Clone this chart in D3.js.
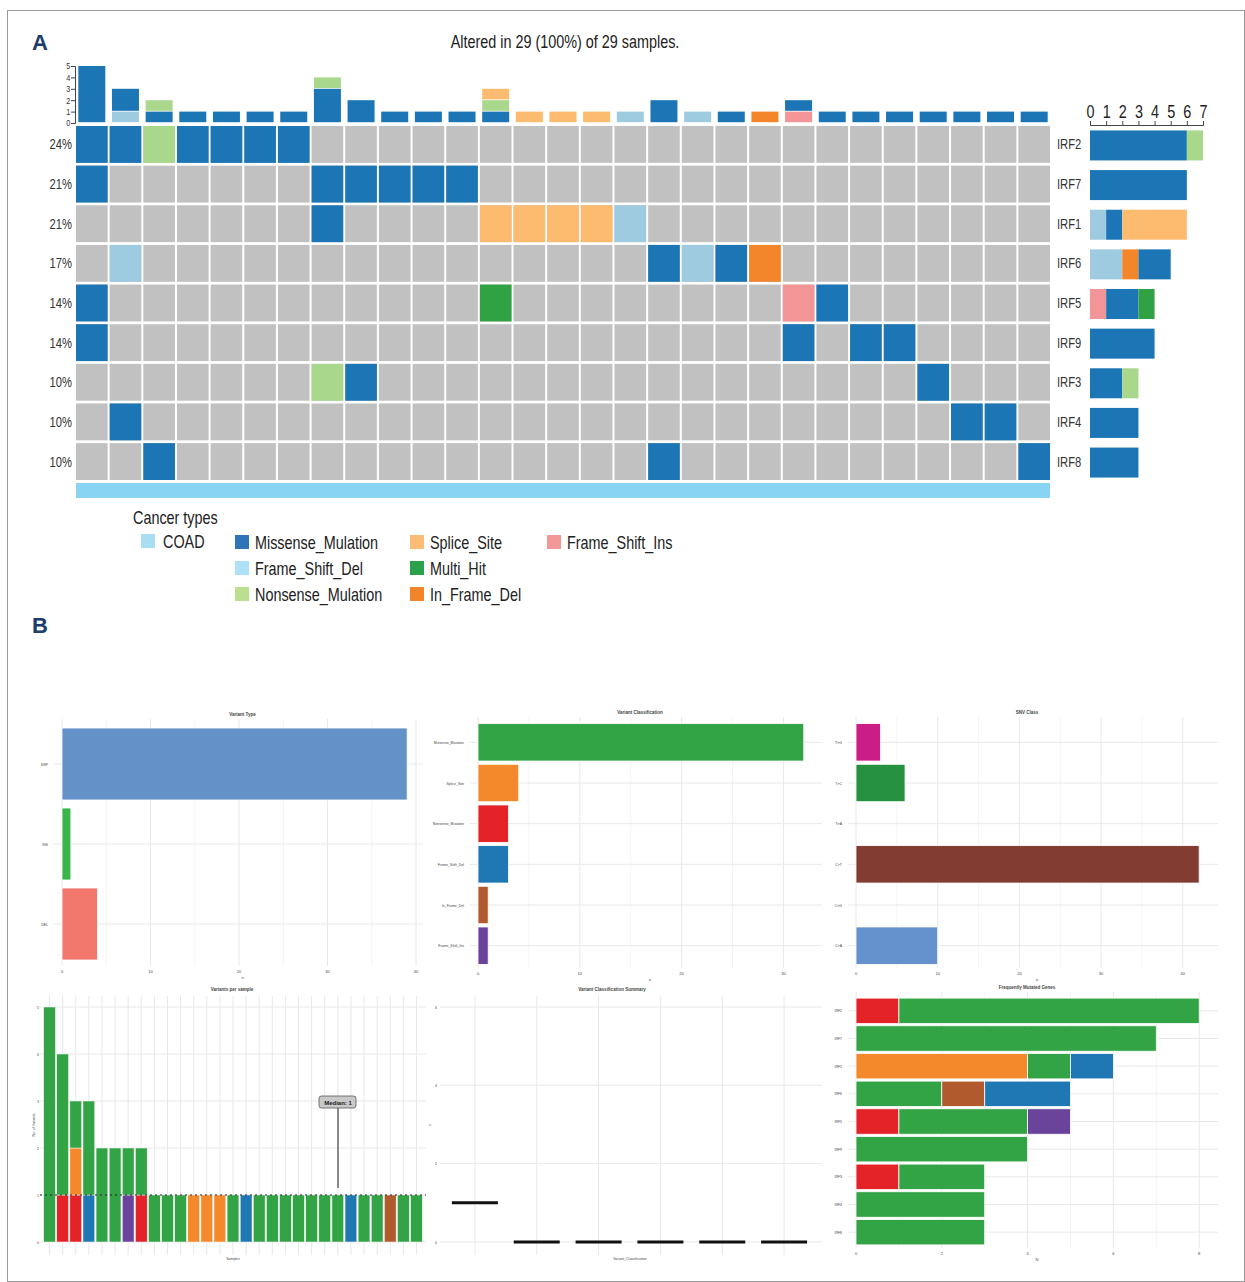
<!DOCTYPE html>
<html>
<head>
<meta charset="utf-8">
<script src="https://cdn.jsdelivr.net/npm/d3@7"></script>
<style>
  body { margin: 0; background: #fff; }
  svg { display: block; }
  .cond { font-family: "Liberation Sans", Arial, sans-serif; }
  .tiny { font-family: "Liberation Sans", Arial, sans-serif; fill: #444; }
</style>
</head>
<body>
<div id="chart"></div>
<script>
// ---------- panel A data ----------
var genes = ["IRF2", "IRF7", "IRF1", "IRF6", "IRF5", "IRF9", "IRF3", "IRF4", "IRF8"];
var genePct = ["24%", "21%", "21%", "17%", "14%", "14%", "10%", "10%", "10%"];
var nSamples = 29;

// [sample index, class] per gene row
var oncoHits = [
  [[0,"MS"],[1,"MS"],[2,"NS"],[3,"MS"],[4,"MS"],[5,"MS"],[6,"MS"]],
  [[0,"MS"],[7,"MS"],[8,"MS"],[9,"MS"],[10,"MS"],[11,"MS"]],
  [[7,"MS"],[12,"SS"],[13,"SS"],[14,"SS"],[15,"SS"],[16,"FSD"]],
  [[1,"FSD"],[17,"MS"],[18,"FSD"],[19,"MS"],[20,"IFD"]],
  [[0,"MS"],[12,"MH"],[21,"FSI"],[22,"MS"]],
  [[0,"MS"],[21,"MS"],[23,"MS"],[24,"MS"]],
  [[7,"NS"],[8,"MS"],[25,"MS"]],
  [[1,"MS"],[26,"MS"],[27,"MS"]],
  [[2,"MS"],[17,"MS"],[28,"MS"]]
];

// stacked counts per sample (top bar), bottom first
var sampleStacks = [
  [["MS",5]], [["FSD",1],["MS",2]], [["MS",1],["NS",1]],
  [["MS",1]], [["MS",1]], [["MS",1]], [["MS",1]],
  [["MS",3],["NS",1]], [["MS",2]], [["MS",1]], [["MS",1]], [["MS",1]],
  [["MS",1],["NS",1],["SS",1]], [["SS",1]], [["SS",1]], [["SS",1]],
  [["FSD",1]], [["MS",2]], [["FSD",1]], [["MS",1]], [["IFD",1]],
  [["FSI",1],["MS",1]],
  [["MS",1]], [["MS",1]], [["MS",1]], [["MS",1]], [["MS",1]], [["MS",1]], [["MS",1]]
];

// stacked counts per gene (side bar), left first
var geneStacks = [
  [["MS",6],["NS",1]], [["MS",6]], [["FSD",1],["MS",1],["SS",4]],
  [["FSD",2],["IFD",1],["MS",2]], [["FSI",1],["MS",2],["MH",1]],
  [["MS",4]], [["MS",2],["NS",1]], [["MS",3]], [["MS",3]]
];

var legendItems = [
  ["MS","Missense_Mulation"], ["FSD","Frame_Shift_Del"], ["NS","Nonsense_Mulation"],
  ["SS","Splice_Site"], ["MH","Multi_Hit"], ["IFD","In_Frame_Del"],
  ["FSI","Frame_Shift_Ins"]
];

// ---------- panel B data ----------
var variantTypes = ["SNP", "INS", "DEL"];
var variantTypeCounts = [39, 1, 4];

var vcNames = ["Missense_Mutation", "Splice_Site", "Nonsense_Mutation", "Frame_Shift_Del", "In_Frame_Del", "Frame_Shift_Ins"];
var vcCodes = ["M", "S", "N", "D", "I", "F"];
var vcCounts = [32, 4, 3, 3, 1, 1];

var snvClasses = ["T>G", "T>C", "T>A", "C>T", "C>G", "C>A"];
var snvCounts = [3, 6, 0, 42, 0, 10];

var varsPerSample = [
  [["M",5]], [["N",1],["M",3]], [["N",1],["S",1],["M",1]], [["D",1],["M",2]],
  [["M",2]], [["M",2]], [["F",1],["M",1]], [["N",1],["M",1]],
  [["M",1]], [["M",1]], [["M",1]], [["S",1]], [["S",1]], [["S",1]],
  [["M",1]], [["D",1]],
  [["M",1]], [["M",1]], [["M",1]], [["M",1]], [["M",1]], [["M",1]], [["M",1]],
  [["D",1]], [["M",1]], [["M",1]], [["I",1]], [["M",1]], [["M",1]]
];
var medianVariants = 1;

var vcSummaryMedian = [1, 0, 0, 0, 0, 0];

var topGeneStacks = [
  [["N",1],["M",7]], [["M",7]], [["S",4],["M",1],["D",1]],
  [["M",2],["I",1],["D",2]], [["N",1],["M",3],["F",1]],
  [["M",4]], [["N",1],["M",2]], [["M",3]], [["M",3]]
];

// ---------- colours ----------
var colA = { MS: "#1c76b5", FSD: "#9ecbe0", NS: "#a9d88c", SS: "#fcbb6e", MH: "#31a244", IFD: "#f3852b", FSI: "#f39596" };
var colLegend = { MS: "#2f74b9", FSD: "#aee0f8", NS: "#bbdf8e", SS: "#fbbd76", MH: "#2aa24b", IFD: "#f2852a", FSI: "#f39899" };
var colB = { M: "#33a446", S: "#f3892b", N: "#e42328", D: "#1f78b4", I: "#b05a2e", F: "#6a449a" };
var vtColors = ["#6591c9", "#3bb44a", "#f2786e"];
var snvColors = ["#cb1d86", "#26913f", "#7d3b33", "#833c32", "#6a8fc4", "#6591cc"];

var W = 1245, H = 1282;
var NARROW = 0.8; // squeeze to mimic the condensed face of the figure
var svg = d3.select("#chart").append("svg").attr("width", W).attr("height", H);

// condensed text helper
function ctext(sel, x, y, s, size, anchor) {
  return sel.append("text")
    .attr("transform", "translate(" + x + "," + y + ") scale(" + NARROW + ",1)")
    .attr("text-anchor", anchor || "start")
    .style("font-size", size + "px").attr("fill", "#222").text(s);
}

// frame
svg.append("rect").attr("x", 7.5).attr("y", 10.5).attr("width", W - 8).attr("height", H - 11)
  .attr("fill", "none").attr("stroke", "#9a9a9a").attr("stroke-width", 1);

svg.append("text").attr("x", 32).attr("y", 50).text("A")
  .style("font-family", "Liberation Sans, Arial, sans-serif").style("font-weight", "bold")
  .style("font-size", "22px").attr("fill", "#1d3c6c");
svg.append("text").attr("x", 32).attr("y", 633).text("B")
  .style("font-family", "Liberation Sans, Arial, sans-serif").style("font-weight", "bold")
  .style("font-size", "22px").attr("fill", "#1d3c6c");

// ================= PANEL A =================
var A = svg.append("g").attr("class", "cond");

ctext(A, 565, 48, "Altered in 29 (100%) of 29 samples.", 18, "middle");

var xCol = d3.scaleBand().domain(d3.range(nSamples)).range([76, 1050]).paddingInner(0.06);
var yRow = d3.scaleBand().domain(genes).range([126, 480]).paddingInner(0.07);

// grey background cells
var cells = [];
genes.forEach(function(g, gi) {
  d3.range(nSamples).forEach(function(s) { cells.push({ g: g, s: s }); });
});
A.selectAll(".bg").data(cells).enter().append("rect")
  .attr("x", d => xCol(d.s)).attr("y", d => yRow(d.g))
  .attr("width", xCol.bandwidth()).attr("height", yRow.bandwidth())
  .attr("fill", "#c1c1c1");

var hitList = [];
oncoHits.forEach(function(row, gi) {
  row.forEach(function(h) { hitList.push({ g: genes[gi], s: h[0], c: h[1] }); });
});
A.selectAll(".hit").data(hitList).enter().append("rect")
  .attr("x", d => xCol(d.s)).attr("y", d => yRow(d.g))
  .attr("width", xCol.bandwidth()).attr("height", yRow.bandwidth())
  .attr("fill", d => colA[d.c]);

// percent labels and gene labels
genes.forEach(function(g, i) {
  var yc = yRow(g) + yRow.bandwidth() / 2 + 5;
  ctext(A, 72, yc, genePct[i], 14, "end").attr("fill", "#333");
  ctext(A, 1057, yc, g, 14, "start").attr("fill", "#333");
});

// cancer type bar
A.append("rect").attr("x", 76).attr("y", 483).attr("width", 974).attr("height", 15).attr("fill", "#8ad4f3");

// top stacked bars
var yTop = d3.scaleLinear().domain([0, 5]).range([123, 66]);
var topSegs = [];
sampleStacks.forEach(function(st, s) {
  var acc = 0;
  st.forEach(function(p) { topSegs.push({ s: s, c: p[0], y0: acc, y1: acc + p[1] }); acc += p[1]; });
});
var topW = 27;
A.selectAll(".top").data(topSegs).enter().append("rect")
  .attr("x", d => xCol(d.s) + xCol.bandwidth() / 2 - topW / 2)
  .attr("y", d => yTop(d.y1)).attr("width", topW)
  .attr("height", d => yTop(d.y0) - yTop(d.y1) - 0.8)
  .attr("fill", d => colA[d.c]);
var topAxis = A.append("g").attr("transform", "translate(75,0)")
  .call(d3.axisLeft(yTop).ticks(5).tickSize(4).tickPadding(2));
topAxis.selectAll("text").style("font-size", "9px").attr("fill", "#333").attr("transform", "scale(" + NARROW + ",1)");
topAxis.selectAll("line,path").attr("stroke", "#444");

// side stacked bars
var xSide = d3.scaleLinear().domain([0, 7]).range([1090, 1203]);
var sideSegs = [];
geneStacks.forEach(function(st, gi) {
  var acc = 0;
  st.forEach(function(p) { sideSegs.push({ g: genes[gi], c: p[0], x0: acc, x1: acc + p[1] }); acc += p[1]; });
});
var sideH = 30;
A.selectAll(".side").data(sideSegs).enter().append("rect")
  .attr("x", d => xSide(d.x0)).attr("width", d => xSide(d.x1) - xSide(d.x0))
  .attr("y", d => yRow(d.g) + yRow.bandwidth() / 2 - sideH / 2 + 1).attr("height", sideH)
  .attr("fill", d => colA[d.c]);
var sideAxis = A.append("g").attr("transform", "translate(0,125)")
  .call(d3.axisTop(xSide).ticks(7).tickSize(4).tickPadding(3));
sideAxis.selectAll("text").style("font-size", "18px").attr("fill", "#222").attr("transform", "scale(" + NARROW + ",1)");
sideAxis.selectAll("line,path").attr("stroke", "#444");

// legend
ctext(A, 133, 524, "Cancer types", 18);
A.append("rect").attr("x", 141).attr("y", 534).attr("width", 14).attr("height", 14).attr("fill", "#a9def2");
ctext(A, 163, 548, "COAD", 18);
var legCols = [235, 410, 547];
legendItems.forEach(function(d, i) {
  var c = i < 3 ? 0 : (i < 6 ? 1 : 2);
  var r = i < 3 ? i : (i < 6 ? i - 3 : i - 6);
  var lx = legCols[c], ly = 535 + r * 26;
  A.append("rect").attr("x", lx).attr("y", ly).attr("width", 14).attr("height", 14).attr("fill", colLegend[d[0]]);
  ctext(A, lx + 20, ly + 14, d[1], 18);
});

// ================= PANEL B =================
var gridCol = "#e8e8e8";

function panelTitle(x, y, t) {
  svg.append("text").attr("class", "tiny").attr("x", x).attr("y", y).attr("text-anchor", "middle")
    .style("font-size", "4.5px").style("font-weight", "bold").attr("fill", "#222").text(t);
}

// generic horizontal bar panel
function hbarPanel(opt) {
  var g = svg.append("g");
  var x = d3.scaleLinear().domain(opt.domain).range([opt.x0, opt.x0 + (opt.domain[1] - opt.domain[0]) * opt.pxPerUnit]);
  var y = d3.scaleBand().domain(opt.cats).range([opt.yTop, opt.yBot]).paddingInner(opt.pad).paddingOuter(opt.pad / 2);
  // minor and major vertical grid
  var majors = d3.range(opt.domain[0], opt.domain[1] + 0.001, opt.tickStep);
  var minors = majors.map(v => v + opt.tickStep / 2).filter(v => x(v) < opt.xRight);
  g.selectAll(".vmin").data(minors).enter().append("line")
    .attr("x1", d => x(d)).attr("x2", d => x(d)).attr("y1", opt.yTop - 5).attr("y2", opt.yBot + 2)
    .attr("stroke", "#f1f1f1").attr("stroke-width", 0.8);
  g.selectAll(".vmaj").data(majors).enter().append("line")
    .attr("x1", d => x(d)).attr("x2", d => x(d)).attr("y1", opt.yTop - 5).attr("y2", opt.yBot + 2)
    .attr("stroke", gridCol).attr("stroke-width", 1);
  g.selectAll(".hgrid").data(opt.cats).enter().append("line")
    .attr("x1", opt.x0 - 8).attr("x2", opt.xRight).attr("y1", d => y(d) + y.bandwidth() / 2).attr("y2", d => y(d) + y.bandwidth() / 2)
    .attr("stroke", gridCol).attr("stroke-width", 1);
  // bars (stacked)
  var segs = [];
  opt.stacks.forEach(function(st, i) {
    var acc = 0;
    st.forEach(function(p) { segs.push({ cat: opt.cats[i], col: p[0], a: acc, b: acc + p[1] }); acc += p[1]; });
  });
  g.selectAll(".bar").data(segs.filter(d => d.b > d.a)).enter().append("rect")
    .attr("x", d => x(d.a)).attr("width", d => x(d.b) - x(d.a))
    .attr("y", d => y(d.cat)).attr("height", y.bandwidth())
    .attr("fill", d => d.col).attr("stroke", "#fff").attr("stroke-width", 0.8);
  // labels
  g.selectAll(".ylab").data(opt.cats).enter().append("text").attr("class", "tiny")
    .attr("x", opt.x0 - 14).attr("y", d => y(d) + y.bandwidth() / 2 + 1.5).attr("text-anchor", "end")
    .style("font-size", "3.5px").text(d => d);
  g.selectAll(".xlab").data(majors).enter().append("text").attr("class", "tiny")
    .attr("x", d => x(d)).attr("y", opt.yBot + 9).attr("text-anchor", "middle")
    .style("font-size", "4px").text(d => d);
  g.append("text").attr("class", "tiny").attr("x", (opt.x0 + opt.xRight) / 2).attr("y", opt.yBot + 15)
    .attr("text-anchor", "middle").style("font-size", "4px").text(opt.xTitle);
  panelTitle((opt.x0 + opt.xRight) / 2 + opt.titleShift, opt.yTop - 8, opt.title);
}

// Variant Type
hbarPanel({
  cats: variantTypes, stacks: variantTypeCounts.map((v, i) => [[vtColors[i], v]]),
  domain: [0, 40], tickStep: 10, x0: 62, pxPerUnit: 8.85, xRight: 423,
  yTop: 724, yBot: 964, pad: 0.1, title: "Variant Type", xTitle: "n", titleShift: 0
});

// Variant Classification
hbarPanel({
  cats: vcNames, stacks: vcCounts.map((v, i) => [[colB[vcCodes[i]], v]]),
  domain: [0, 30], tickStep: 10, x0: 478, pxPerUnit: 10.18, xRight: 822,
  yTop: 722, yBot: 966, pad: 0.08, title: "Variant Classification", xTitle: "n", titleShift: -10
});

// SNV Class
hbarPanel({
  cats: snvClasses, stacks: snvCounts.map((v, i) => [[snvColors[i], v]]),
  domain: [0, 40], tickStep: 10, x0: 856, pxPerUnit: 8.17, xRight: 1218,
  yTop: 722, yBot: 966, pad: 0.08, title: "SNV Class", xTitle: "n", titleShift: -10
});

// Frequently mutated genes
hbarPanel({
  cats: genes, stacks: topGeneStacks.map(st => st.map(p => [colB[p[0]], p[1]])),
  domain: [0, 8], tickStep: 2, x0: 856, pxPerUnit: 42.9, xRight: 1218,
  yTop: 997, yBot: 1246, pad: 0.08, title: "Frequently Mutated Genes", xTitle: "N", titleShift: -10
});

// Variants per sample
(function() {
  var g = svg.append("g");
  var x = d3.scaleBand().domain(d3.range(varsPerSample.length)).range([43, 423]).paddingInner(0.1).paddingOuter(0.05);
  var y = d3.scaleLinear().domain([0, 5]).range([1242, 1007]);
  g.selectAll(".hg").data(d3.range(0, 6)).enter().append("line")
    .attr("x1", 40).attr("x2", 426).attr("y1", d => y(d)).attr("y2", d => y(d))
    .attr("stroke", gridCol);
  g.selectAll(".vg").data(d3.range(varsPerSample.length)).enter().append("line")
    .attr("x1", d => x(d) + x.bandwidth() / 2).attr("x2", d => x(d) + x.bandwidth() / 2)
    .attr("y1", 996).attr("y2", 1255).attr("stroke", gridCol);
  var segs = [];
  varsPerSample.forEach(function(st, i) {
    var acc = 0;
    st.forEach(function(p) { segs.push({ i: i, c: p[0], a: acc, b: acc + p[1] }); acc += p[1]; });
  });
  g.selectAll(".bar").data(segs).enter().append("rect")
    .attr("x", d => x(d.i)).attr("width", x.bandwidth())
    .attr("y", d => y(d.b)).attr("height", d => y(d.a) - y(d.b))
    .attr("fill", d => colB[d.c]).attr("stroke", "#fff").attr("stroke-width", 0.5);
  g.append("line").attr("x1", 40).attr("x2", 426).attr("y1", y(medianVariants)).attr("y2", y(medianVariants))
    .attr("stroke", "#222").attr("stroke-width", 1.2).attr("stroke-dasharray", "2,3");
  // median label
  var mx = 338;
  g.append("line").attr("x1", mx).attr("x2", mx).attr("y1", 1108).attr("y2", 1188)
    .attr("stroke", "#666").attr("stroke-width", 1.5);
  g.append("rect").attr("x", 319).attr("y", 1096).attr("width", 37).attr("height", 12).attr("rx", 2.5)
    .attr("fill", "#c9c9c9").attr("stroke", "#555").attr("stroke-width", 0.8);
  g.append("text").attr("x", mx).attr("y", 1104.5).attr("text-anchor", "middle")
    .style("font-family", "Liberation Sans, Arial, sans-serif").style("font-size", "6px").style("font-weight", "bold")
    .attr("fill", "#222").text("Median: " + medianVariants);
  g.selectAll(".yl").data(d3.range(0, 6)).enter().append("text").attr("class", "tiny")
    .attr("x", 39).attr("y", d => y(d) + 1.5).attr("text-anchor", "end").style("font-size", "3.5px").text(d => d);
  g.append("text").attr("class", "tiny").attr("transform", "translate(35,1125) rotate(-90)")
    .attr("text-anchor", "middle").style("font-size", "3.5px").text("No. of Variants");
  g.append("text").attr("class", "tiny").attr("x", 233).attr("y", 1260).attr("text-anchor", "middle")
    .style("font-size", "3.5px").text("Samples");
  panelTitle(232, 991, "Variants per sample");
})();

// Variant Classification Summary (boxplot)
(function() {
  var g = svg.append("g");
  var x = d3.scaleBand().domain(vcNames).range([444, 815]);
  var y = d3.scaleLinear().domain([0, 6]).range([1242, 1007]);
  g.selectAll(".hg").data([0, 2, 4, 6]).enter().append("line")
    .attr("x1", 440).attr("x2", 822).attr("y1", d => y(d)).attr("y2", d => y(d)).attr("stroke", gridCol);
  g.selectAll(".vg").data(vcNames).enter().append("line")
    .attr("x1", d => x(d) + x.bandwidth() / 2).attr("x2", d => x(d) + x.bandwidth() / 2)
    .attr("y1", 996).attr("y2", 1255).attr("stroke", gridCol);
  g.selectAll(".box").data(vcNames).enter().append("line")
    .attr("x1", d => x(d) + x.bandwidth() / 2 - 23).attr("x2", d => x(d) + x.bandwidth() / 2 + 23)
    .attr("y1", (d, i) => y(vcSummaryMedian[i])).attr("y2", (d, i) => y(vcSummaryMedian[i]))
    .attr("stroke", "#111").attr("stroke-width", 3);
  g.selectAll(".yl").data([0, 2, 4, 6]).enter().append("text").attr("class", "tiny")
    .attr("x", 437).attr("y", d => y(d) + 1.5).attr("text-anchor", "end").style("font-size", "3.5px").text(d => d);
  g.append("text").attr("class", "tiny").attr("transform", "translate(431,1125) rotate(-90)")
    .attr("text-anchor", "middle").style("font-size", "3.5px").text("n");
  g.append("text").attr("class", "tiny").attr("x", 630).attr("y", 1260).attr("text-anchor", "middle")
    .style("font-size", "3.5px").text("Variant_Classification");
  panelTitle(612, 991, "Variant Classification Summary");
})();
</script>
</body>
</html>
